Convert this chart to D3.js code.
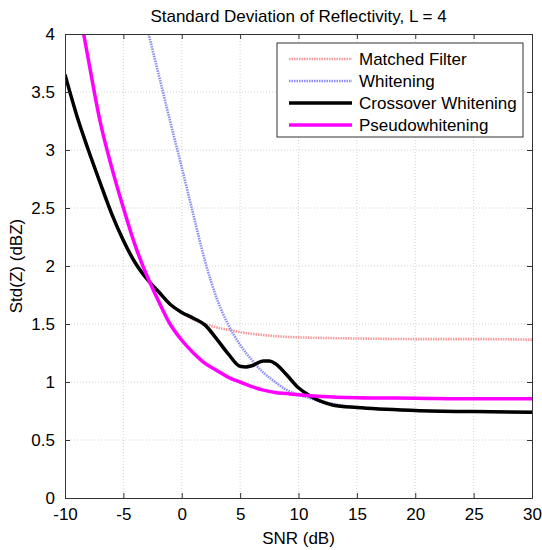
<!DOCTYPE html>
<html>
<head>
<meta charset="utf-8">
<script src="https://cdn.jsdelivr.net/npm/d3@7"></script>
<style>
body { margin: 0; background: #fff; }
text { font-family: Arial, "Liberation Sans", sans-serif; fill: #000; }
</style>
</head>
<body>
<script>
const width = 542;
const height = 550;
const margin = {top: 34, right: 10, bottom: 52, left: 65};

const xTicks = [-10, -5, 0, 5, 10, 15, 20, 25, 30];
const yTicks = [0, 0.5, 1, 1.5, 2, 2.5, 3, 3.5, 4];

// Crossover Whitening
const crossX = [-10, -9, -8, -7, -6, -5, -4, -3, -2, -1, 0, 1, 2, 3, 4, 5, 5.5, 6, 7, 7.5, 8, 9, 10, 11, 12, 13, 15, 20, 25, 30];
const crossY = [3.65, 3.3, 3.0, 2.72, 2.45, 2.22, 2.03, 1.89, 1.78, 1.67, 1.6, 1.55, 1.49, 1.37, 1.24, 1.135, 1.13, 1.14, 1.18, 1.18, 1.16, 1.06, 0.95, 0.88, 0.83, 0.8, 0.78, 0.755, 0.745, 0.74];

// Matched Filter (hidden under the crossover line at low SNR)
const mfX = [-10, -9, -8, -7, -6, -5, -4, -3, -2, -1, 0, 1, 2, 3, 4, 5, 6, 7, 8, 10, 12, 15, 20, 25, 30];
const mfY = [3.65, 3.3, 3.0, 2.72, 2.45, 2.22, 2.03, 1.89, 1.78, 1.67, 1.6, 1.54, 1.5, 1.47, 1.45, 1.43, 1.415, 1.405, 1.395, 1.385, 1.38, 1.375, 1.37, 1.37, 1.365];

// Whitening
const whX = [-2.84, -2, -1, 0, 1, 2, 3, 4, 5, 6, 7, 8, 9, 10, 11, 12, 13, 15, 20, 25, 30];
const whY = [4.0, 3.66, 3.25, 2.85, 2.44, 2.04, 1.72, 1.49, 1.32, 1.19, 1.08, 1.0, 0.93, 0.89, 0.86, 0.83, 0.81, 0.78, 0.755, 0.745, 0.74];

// Pseudowhitening
const pwX = [-8.4, -8, -7, -6, -5, -4, -3, -2, -1, 0, 1, 2, 3, 4, 5, 6, 7, 8, 9, 10, 12, 15, 20, 25, 30];
const pwY = [4.0, 3.78, 3.25, 2.85, 2.5, 2.18, 1.92, 1.7, 1.5, 1.36, 1.25, 1.16, 1.1, 1.04, 1.0, 0.96, 0.93, 0.91, 0.9, 0.89, 0.875, 0.865, 0.86, 0.855, 0.855];

const series = [
    {name: "Matched Filter", xs: mfX, ys: mfY, color: "#f59a9a", width: 2.6, dash: "1.5,1"},
    {name: "Whitening", xs: whX, ys: whY, color: "#8c8cf2", width: 2.6, dash: "1.5,1"},
    {name: "Crossover Whitening", xs: crossX, ys: crossY, color: "#000000", width: 3.5, dash: null},
    {name: "Pseudowhitening", xs: pwX, ys: pwY, color: "#ff00ff", width: 3.5, dash: null}
];

const svg = d3.select("body").append("svg")
    .attr("width", width)
    .attr("height", height);

const x = d3.scaleLinear().domain([-10, 30]).range([margin.left, width - margin.right]);
const y = d3.scaleLinear().domain([0, 4]).range([height - margin.bottom, margin.top]);

svg.append("defs").append("clipPath").attr("id", "plotClip")
    .append("rect")
    .attr("x", x(-10)).attr("y", y(4))
    .attr("width", x(30) - x(-10)).attr("height", y(0) - y(4));

// grid
const grid = svg.append("g");
grid.selectAll(".gx").data(xTicks.slice(1, -1)).enter().append("line")
    .attr("x1", d => x(d)).attr("x2", d => x(d))
    .attr("y1", y(0)).attr("y2", y(4))
    .attr("stroke", "#c8c8c8").attr("stroke-width", 0.8).attr("stroke-dasharray", "1,2");
grid.selectAll(".gy").data(yTicks.slice(1, -1)).enter().append("line")
    .attr("x1", x(-10)).attr("x2", x(30))
    .attr("y1", d => y(d)).attr("y2", d => y(d))
    .attr("stroke", "#c8c8c8").attr("stroke-width", 0.8).attr("stroke-dasharray", "1,2");

// lines
const plot = svg.append("g").attr("clip-path", "url(#plotClip)");
for (let s of series) {
    let pts = s.xs.map((v, i) => [v, s.ys[i]]);
    let line = d3.line()
        .x(d => x(d[0]))
        .y(d => y(d[1]))
        .curve(d3.curveMonotoneX);
    plot.append("path")
        .attr("d", line(pts))
        .attr("fill", "none")
        .attr("stroke", s.color)
        .attr("stroke-width", s.width)
        .attr("stroke-dasharray", s.dash)
        .attr("stroke-linejoin", "round");
}

// axes (ticks inside, box all around)
const tickFont = "17px";
const xAxis = d3.axisBottom(x).tickValues(xTicks).tickSize(-5).tickPadding(10).tickFormat(d => String(d));
const xAxisTop = d3.axisTop(x).tickValues(xTicks).tickSize(-5).tickFormat("");
const yAxis = d3.axisLeft(y).tickValues(yTicks).tickSize(-5).tickPadding(10).tickFormat(d => String(d));
const yAxisRight = d3.axisRight(y).tickValues(yTicks).tickSize(-5).tickFormat("");

function styleAxis(g) {
    g.select(".domain").attr("stroke", "#333").attr("stroke-width", 1);
    g.selectAll(".tick line").attr("stroke", "#333");
    g.selectAll("text").style("font-size", tickFont).attr("font-family", "Arial, 'Liberation Sans', sans-serif");
}

svg.append("g").attr("transform", "translate(0," + y(0) + ")").call(xAxis).call(styleAxis);
svg.append("g").attr("transform", "translate(0," + y(4) + ")").call(xAxisTop).call(styleAxis);
svg.append("g").attr("transform", "translate(" + x(-10) + ",0)").call(yAxis).call(styleAxis);
svg.append("g").attr("transform", "translate(" + x(30) + ",0)").call(yAxisRight).call(styleAxis);

// title and labels
svg.append("text")
    .attr("x", (x(-10) + x(30)) / 2).attr("y", 22)
    .attr("text-anchor", "middle")
    .style("font-size", "17px")
    .text("Standard Deviation of Reflectivity, L = 4");

svg.append("text")
    .attr("x", (x(-10) + x(30)) / 2).attr("y", 544)
    .attr("text-anchor", "middle")
    .style("font-size", "17px")
    .text("SNR (dB)");

svg.append("text")
    .attr("transform", "translate(22," + ((y(0) + y(4)) / 2) + ") rotate(-90)")
    .attr("text-anchor", "middle")
    .style("font-size", "17px")
    .text("Std(Z) (dBZ)");

// legend
const legend = svg.append("g").attr("transform", "translate(277,43)");
legend.append("rect")
    .attr("width", 246).attr("height", 94)
    .attr("fill", "#fff").attr("stroke", "#333").attr("stroke-width", 1);
series.forEach(function(s, i) {
    let ly = 16 + i * 22;
    legend.append("line")
        .attr("x1", 12).attr("x2", 75)
        .attr("y1", ly).attr("y2", ly)
        .attr("stroke", s.color)
        .attr("stroke-width", s.width)
        .attr("stroke-dasharray", s.dash);
    legend.append("text")
        .attr("x", 82).attr("y", ly + 6)
        .style("font-size", "17px")
        .text(s.name);
});
</script>
</body>
</html>
